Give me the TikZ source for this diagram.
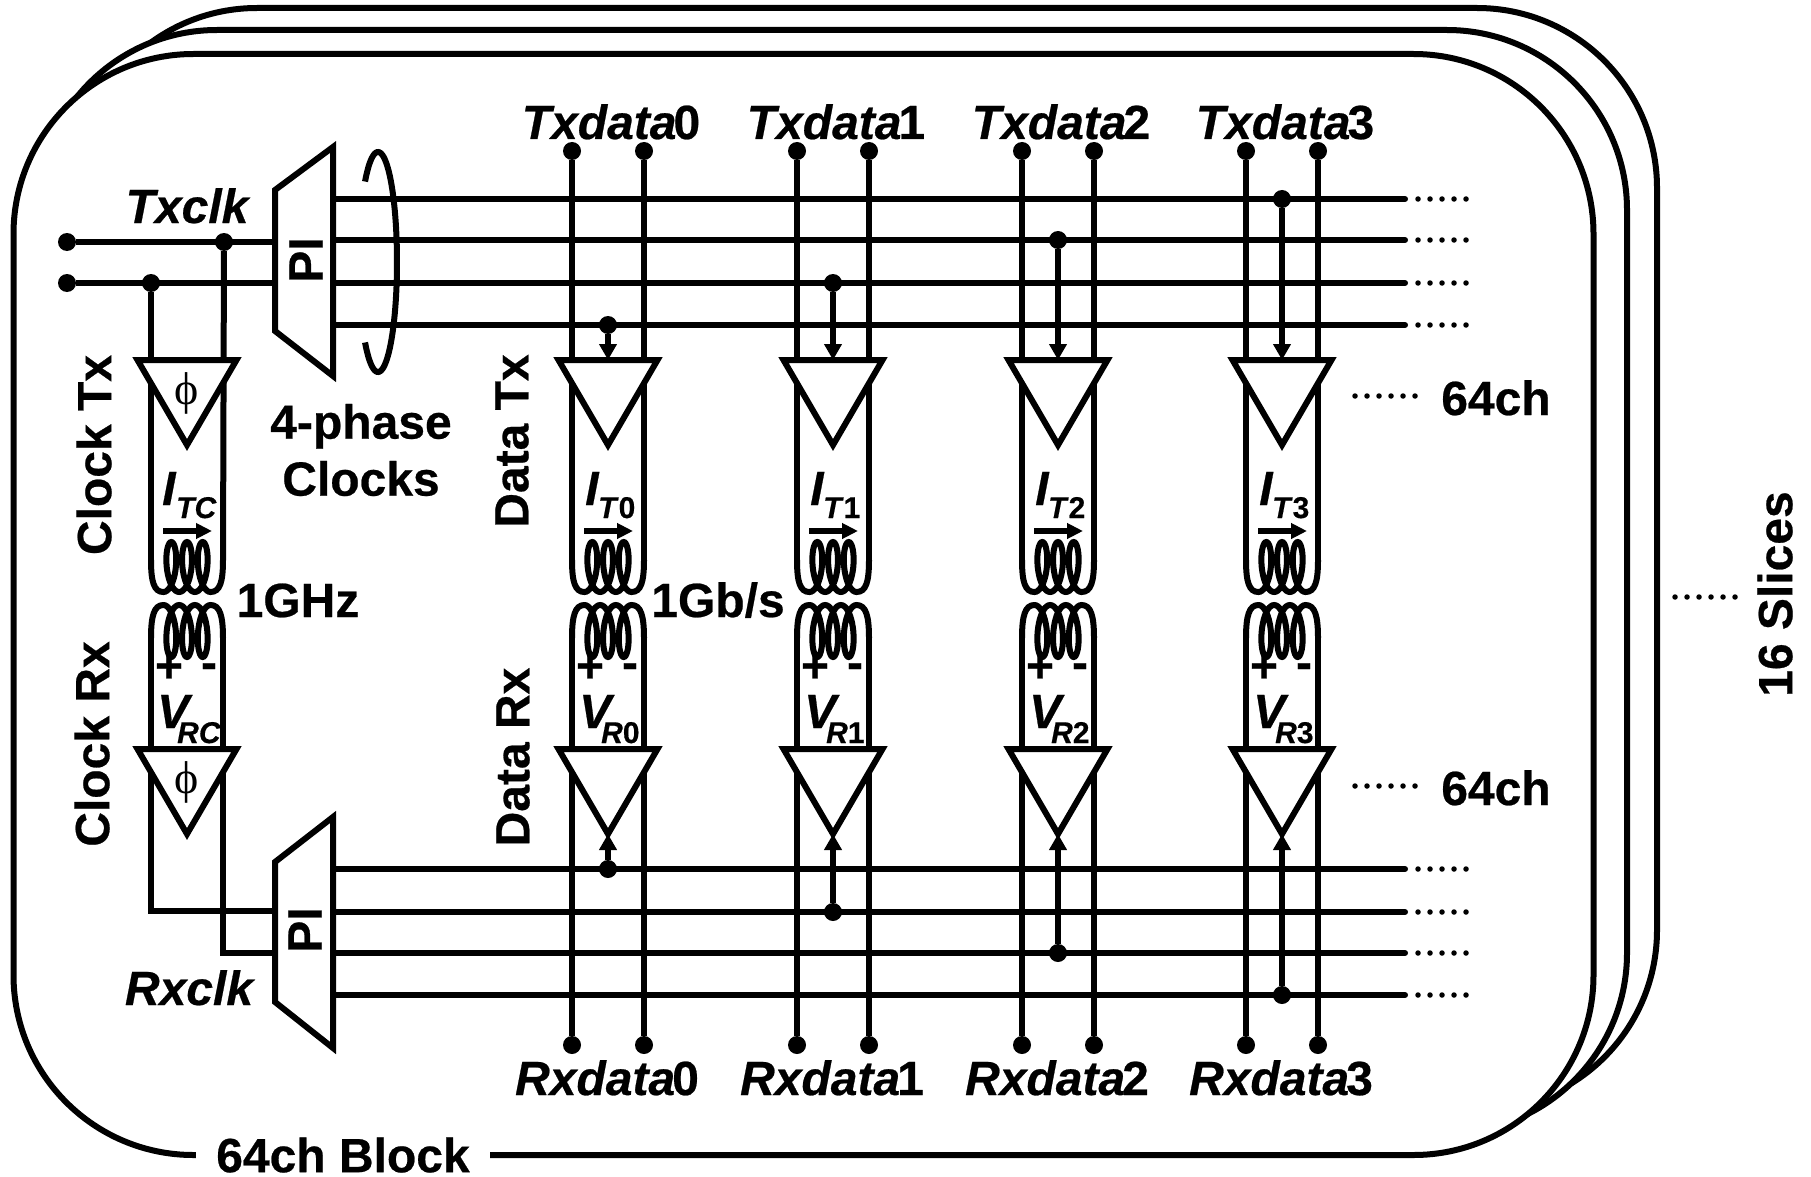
\documentclass[tikz,border=0pt]{standalone}
\usepackage{fontspec}
\setmainfont{Liberation Sans}[BoldFeatures={FakeBold=0.5}, BoldItalicFeatures={FakeBold=0.5}]
\newfontfamily\phifont{Liberation Serif}
\usetikzlibrary{arrows.meta, shapes.geometric}
\newcommand{\bigfont}{\fontsize{48}{57}\selectfont\bfseries}
\newcommand{\subfont}{\fontsize{30}{30}\selectfont\bfseries}
% transformer halves, #1 is the centre of the pair
\newcommand{\coiltx}[1]{
  \draw[ln] ({#1-36},560) .. controls ({#1-36},582) and ({#1-33},592) .. ({#1-23.6},592)
    -- plot[domain=-9.42:9.42, samples=121, variable=\t] ({#1+2.5*\t-8.5*sin(\t r)},{567-25*cos(\t r)})
    .. controls ({#1+33},592) and ({#1+36},582) .. ({#1+36},560);
}
\newcommand{\coilrx}[1]{
  \draw[ln] ({#1-36},638) .. controls ({#1-36},616) and ({#1-33},605) .. ({#1-23.6},605)
    -- plot[domain=-9.42:9.42, samples=121, variable=\t] ({#1+2.5*\t-8.5*sin(\t r)},{631+26*cos(\t r)})
    .. controls ({#1+33},605) and ({#1+36},616) .. ({#1+36},638);
}
\tikzset{
  ln/.style={line width=6pt, draw=black},
  lbl/.style={font=\bigfont, inner sep=0pt},
  lblit/.style={font=\bigfont\itshape, inner sep=0pt},
  slicebox/.style={ln, fill=white, rounded corners=180pt, inner sep=0pt, outer sep=0pt},
  dotnode/.style={circle, fill=black, inner sep=0pt, minimum size=18pt},
  drvbox/.style={ln, fill=white, isosceles triangle, shape border rotate=270,
    isosceles triangle stretches, minimum width=99pt, minimum height=85pt,
    inner sep=0pt, outer sep=0pt, anchor=lower side},
  tap/.style={ln, -{Triangle[length=16pt, width=17pt]}},
  idir/.style={line width=5.5pt, -{Triangle[length=16pt, width=15pt]}},
  more/.style={line width=5.5pt, line cap=round, dash pattern=on 0pt off 12pt},
}
\begin{document}
\begin{tikzpicture}[x=1pt, y=-1pt]
  \useasboundingbox (0,0) rectangle (1811,1177);

  % Slices
  \node[slicebox, minimum width=1580pt, minimum height=1102pt] (back) at (867,559) {};
  \node[slicebox, minimum width=1590pt, minimum height=1103pt] (mid) at (832,581.5) {};
  \node[slicebox, minimum width=1580pt, minimum height=1101pt] (front) at (803.5,604.5) {};
  \node[lbl, fill=white, inner xsep=20pt, inner ysep=0pt] (blocklbl) at (343,1155) {64ch Block};

  % Clock lines on the left
  \node[dotnode] (ckin1) at (67,242) {};
  \node[dotnode] (ckin2) at (67,283) {};
  \coordinate (ckpi1) at (275,242);
  \coordinate (ckpi2) at (275,283);
  \draw[ln] (ckin1) -- (ckpi1);
  \draw[ln] (ckin2) -- (ckpi2);
  \node[dotnode] (cktap1) at (224,242) {};
  \node[dotnode] (cktap2) at (151,283) {};

  % Phase interpolators
  \draw[ln, fill=white] (275,190) -- (333,147) -- (333,376) -- (275,331) -- cycle;
  \draw[ln, fill=white] (275,862) -- (333,817) -- (333,1048) -- (275,1002) -- cycle;
  \node[lbl, rotate=90] (pitx) at (306,260) {PI};
  \node[lbl, rotate=90] (pirx) at (305,930) {PI};

  % Phase lines
  \foreach \i/\y in {1/199, 2/240, 3/283, 4/325, 5/869, 6/912, 7/953, 8/995} {
    \coordinate (ph\i) at (333,\y);
    \coordinate (phe\i) at (1405,\y);
    \coordinate (pd\i) at (1418,\y);
    \coordinate (pde\i) at (1467,\y);
    \draw[ln, line cap=round] (ph\i) -- (phe\i);
    \draw[more] (pd\i) -- (pde\i);
  }
  \draw[ln] plot[domain=-43:223, samples=80] ({378+19*sin(\x)},{262-110*cos(\x)});

  % Clock channel
  \coordinate (ckl) at (151,560);
  \coordinate (ckr) at (223,560);
  \draw[ln] (cktap2) -- (ckl);
  \draw[ln] (cktap1) -- (ckr);
  \coiltx{187}
  \coilrx{187}
  \coordinate (ckrl) at (151,911);
  \coordinate (ckrr) at (223,953);
  \draw[ln, line join=miter] (151,638) -- (ckrl) -- (275,911);
  \draw[ln, line join=miter] (223,638) -- (ckrr) -- (275,953);
  \node[drvbox] (cktx) at (187,360) {};
  \node[drvbox] (ckrx) at (187,749) {};
  \node[inner sep=0pt, font=\phifont\fontsize{46}{46}\selectfont] (phitx) at (187,393) {ϕ};
  \node[inner sep=0pt, font=\phifont\fontsize{46}{46}\selectfont] (phirx) at (187,782) {ϕ};
  \node[lblit, anchor=base west] (itc) at (162,505) {I};
  \node[inner sep=0pt, font=\subfont\itshape, anchor=base west] (itcs) at (176,518) {TC};
  \node[lblit, anchor=base west] (vrc) at (157,728) {V};
  \node[inner sep=0pt, font=\subfont\itshape, anchor=base west] (vrcs) at (177,743) {RC};
  \node[lbl] (plusc) at (169,668) {+};
  \node[lbl] (minusc) at (209,671) {-};
  \coordinate (ica) at (163,531);
  \coordinate (icb) at (212,531);
  \draw[idir] (ica) -- (icb);

  % Data channels
  \foreach \i/\cx/\ty/\by in {0/608/325/869, 1/833/283/912, 2/1058/240/953, 3/1282/199/995} {
    \node[dotnode] (txa\i) at ({\cx-36},151) {};
    \node[dotnode] (txb\i) at ({\cx+36},151) {};
    \node[dotnode] (rxa\i) at ({\cx-36},1045) {};
    \node[dotnode] (rxb\i) at ({\cx+36},1045) {};
    \coordinate (txae\i) at ({\cx-36},560);
    \coordinate (txbe\i) at ({\cx+36},560);
    \coordinate (rxae\i) at ({\cx-36},638);
    \coordinate (rxbe\i) at ({\cx+36},638);
    \draw[ln] (txa\i) -- (txae\i);
    \draw[ln] (txb\i) -- (txbe\i);
    \draw[ln] (rxa\i) -- (rxae\i);
    \draw[ln] (rxb\i) -- (rxbe\i);
    \coiltx{\cx}
    \coilrx{\cx}
    \node[drvbox] (dtx\i) at (\cx,360) {};
    \node[drvbox] (drx\i) at (\cx,749) {};
    \node[dotnode] (ttap\i) at (\cx,\ty) {};
    \node[dotnode] (rtap\i) at (\cx,\by) {};
    \draw[tap] (ttap\i) -- (dtx\i.lower side);
    \draw[tap] (rtap\i) -- (drx\i.apex);
    \node[lbl, anchor=base] (txl\i) at ({\cx+3},139) {\textit{Txdata}\kern-3pt\i};
    \node[lbl, anchor=base] (rxl\i) at ({\cx-1},1095) {\textit{Rxdata}\kern-3pt\i};
    \node[lblit, anchor=base west] (it\i) at ({\cx-23},505) {I};
    \node[inner sep=0pt, font=\subfont, anchor=base west] (its\i) at ({\cx-10},518) {\textit{T}\i};
    \node[lblit, anchor=base west] (vr\i) at ({\cx-29},728) {V};
    \node[inner sep=0pt, font=\subfont, anchor=base west] (vrs\i) at ({\cx-7},743) {\textit{R}\i};
    \node[lbl] (plus\i) at ({\cx-18},668) {+};
    \node[lbl] (minus\i) at ({\cx+22},671) {-};
    \coordinate (ia\i) at ({\cx-24},531);
    \coordinate (ib\i) at ({\cx+25},531);
    \draw[idir] (ia\i) -- (ib\i);
  }

  % Labels
  \node[lblit, anchor=base] (txclk) at (187,223) {Txclk};
  \node[lblit, anchor=base] (rxclk) at (189,1005) {Rxclk};
  \node[lbl, rotate=90] (clktx) at (94,455) {Clock Tx};
  \node[lbl, rotate=90] (clkrx) at (92,744) {Clock Rx};
  \node[lbl, rotate=90] (datatx) at (512,441) {Data Tx};
  \node[lbl, rotate=90] (datarx) at (513,757) {Data Rx};
  \node[lbl, align=center] (phases) at (361,450) {4-phase\\Clocks};
  \node[lbl, anchor=base] (ghz) at (298,617) {1GHz};
  \node[lbl, anchor=base] (gbs) at (718,617) {1Gb/s};
  \node[lbl, anchor=base] (chtx) at (1496,415) {64ch};
  \node[lbl, anchor=base] (chrx) at (1496,805) {64ch};
  \node[lbl, rotate=90] (slices) at (1775,594) {16 Slices};

  \coordinate (chtxa) at (1355,396);
  \coordinate (chtxb) at (1417,396);
  \coordinate (chrxa) at (1355,786);
  \coordinate (chrxb) at (1417,786);
  \coordinate (slma) at (1675,597);
  \coordinate (slmb) at (1737,597);
  \draw[more] (chtxa) -- (chtxb);
  \draw[more] (chrxa) -- (chrxb);
  \draw[more] (slma) -- (slmb);
\end{tikzpicture}
\end{document}
